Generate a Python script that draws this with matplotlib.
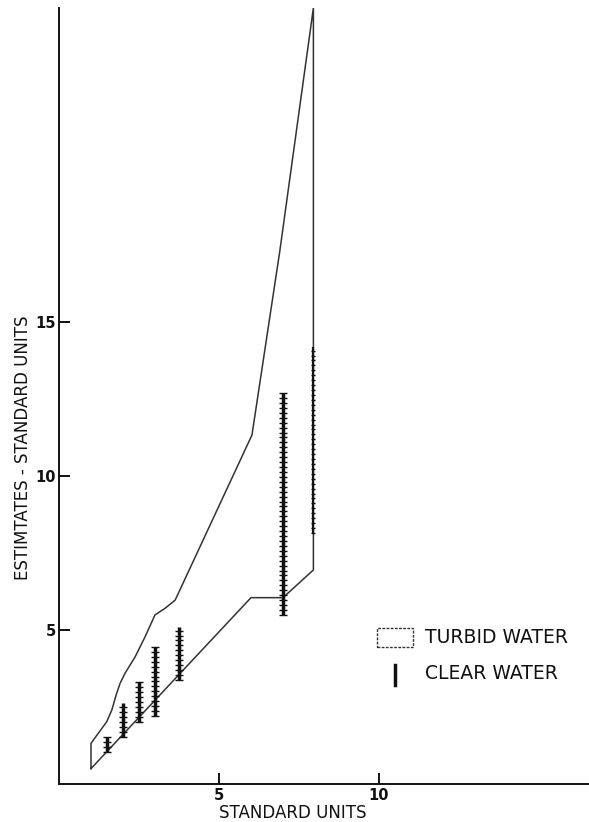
import numpy as np
import matplotlib
matplotlib.use("Agg")
import matplotlib.pyplot as plt
from matplotlib.patches import Rectangle

# Turbid water envelope (closed outline)
turbid_x = [1.0, 1.0, 1.23, 1.49, 1.65, 1.80, 1.91, 2.06, 2.38, 2.69, 3.0, 3.31, 3.63,
            6.03, 6.9, 7.95, 7.95, 7.0, 6.0, 1.0]
turbid_y = [0.5, 1.32, 1.65, 2.02, 2.40, 2.94, 3.27, 3.59, 4.13, 4.78, 5.49, 5.70, 5.97,
            11.33, 17.3, 25.2, 6.95, 6.05, 6.05, 0.5]

# Clear water ranges
clear_x = [1.5, 2.0, 2.5, 3.0, 3.75, 7.0]
clear_lo = [1.05, 1.54, 2.02, 2.21, 3.38, 5.49]
clear_hi = [1.54, 2.62, 3.32, 4.46, 5.11, 12.7]
# faint range along right edge
edge_x = [7.95]
edge_lo = [8.15]
edge_hi = [14.2]

xticks = [5, 10]
yticks = [5, 10, 15]

W, H = 589, 822
fig = plt.figure(figsize=(W / 100, H / 100), dpi=100)
ax_l, ax_r, ax_b, ax_t = 59, 589, 784, 8
ax = fig.add_axes([ax_l / W, (H - ax_b) / H, (ax_r - ax_l) / W, (ax_b - ax_t) / H])
ax.set_xlim(0, (ax_r - ax_l) / 32.0)
ax.set_ylim(0, (ax_b - ax_t) / 30.8)

ink = "#111111"
ax.plot(turbid_x, turbid_y, color="#333333", lw=1.1, solid_joinstyle="miter")

def caterpillar(x, lo, hi, lw, ms):
    ax.plot([x, x], [lo, hi], color=ink, lw=lw, solid_capstyle="butt")
    ys = np.arange(lo, hi, 0.16)
    ax.plot(np.full_like(ys, x), ys, ls="none", marker="_", ms=ms, mew=1.0, color=ink)

for x, lo, hi in zip(clear_x, clear_lo, clear_hi):
    caterpillar(x, lo, hi, 2.5, 5.5)
for x, lo, hi in zip(edge_x, edge_lo, edge_hi):
    caterpillar(x, lo, hi, 1.6, 3)

for s in ["top", "right"]:
    ax.spines[s].set_visible(False)
for s in ["left", "bottom"]:
    ax.spines[s].set_linewidth(1.4)
    ax.spines[s].set_color(ink)

ax.set_xticks(xticks)
ax.set_yticks(yticks)
ax.tick_params(direction="in", length=8, width=1.4, color=ink, labelsize=10.5,
               labelcolor=ink)
ax.tick_params(axis="y", pad=2)
ax.tick_params(axis="x", pad=3)
for lab in ax.get_xticklabels() + ax.get_yticklabels():
    lab.set_fontweight("bold")

ax.text(0.4415, -0.038, "STANDARD UNITS", transform=ax.transAxes, ha="center",
        va="center", fontsize=12, color=ink)
ax.text(-0.068, 0.433, "ESTIMTATES - STANDARD UNITS", transform=ax.transAxes,
        ha="center", va="center", rotation=90, fontsize=12, color=ink)

# legend
ax.add_patch(Rectangle((0.600, 0.1765), 0.068, 0.0245, transform=ax.transAxes,
                       fill=False, ec="#333333", lw=1.0, ls=(0, (2, 1))))
ax.text(0.6906, 0.1894, "TURBID WATER", transform=ax.transAxes, ha="left",
        va="center", fontsize=13.5, color=ink)
ax.plot([0.634, 0.634], [0.1276, 0.1534], transform=ax.transAxes, color=ink, lw=2.5)
ax.text(0.6906, 0.143, "CLEAR WATER", transform=ax.transAxes, ha="left",
        va="center", fontsize=13.5, color=ink)

fig.savefig("out.png", dpi=100)
